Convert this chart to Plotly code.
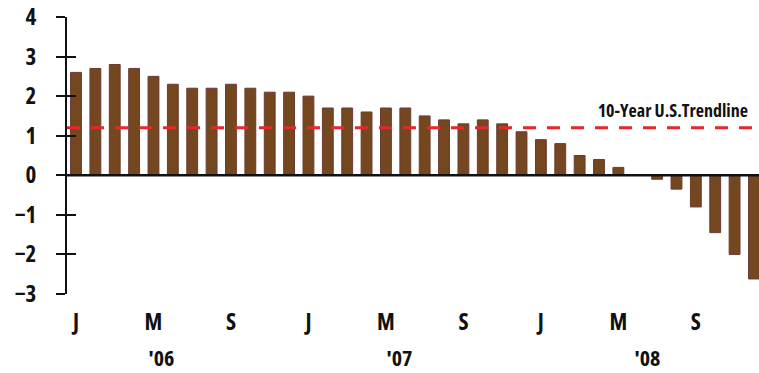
import plotly.graph_objects as go

# Monthly values, Jan 2006 .. Dec 2008
months = [f"{y}-{m:02d}" for y in (2006, 2007, 2008) for m in range(1, 13)]
values = [2.6, 2.7, 2.8, 2.7, 2.5, 2.3, 2.2, 2.2, 2.3, 2.2, 2.1, 2.1,
          2.0, 1.7, 1.7, 1.6, 1.7, 1.7, 1.5, 1.4, 1.3, 1.4, 1.3, 1.1,
          0.9, 0.8, 0.5, 0.4, 0.2, 0.0, -0.1, -0.35, -0.8, -1.45, -2.0, -2.62]
trend_value = 1.2
trend_label = "10-Year U.S.Trendline"
tick_positions = [0, 4, 8, 12, 16, 20, 24, 28, 32]
tick_labels = ["J", "M", "S", "J", "M", "S", "J", "M", "S"]
year_labels = ["'06", "'07", "'08"]
year_positions = [4.4, 16.7, 29.5]
y_ticks = [-3, -2, -1, 0, 1, 2, 3, 4]

FONT = "Open Sans"

x_idx = list(range(len(values)))

fig = go.Figure()
fig.add_trace(go.Bar(
    x=x_idx, y=values, width=0.56,
    marker=dict(color="#74471F", line=dict(color="#6C3A36", width=1)),
    hovertext=months, showlegend=False,
))
fig.add_trace(go.Scatter(x=[x_idx[0]], y=[values[0]], yaxis="y2",
                         mode="markers", marker=dict(opacity=0),
                         showlegend=False, hoverinfo="skip"))

fig.add_shape(type="line", xref="paper", x0=0, x1=1, yref="y",
              y0=trend_value, y1=trend_value,
              line=dict(color="#E8262B", width=3, dash="13px,11px"))

fig.add_annotation(text=trend_label, xref="paper", x=0.8757, xanchor="center",
                   yref="y", y=1.64, yanchor="middle", showarrow=False,
                   font=dict(family=FONT, size=18, color="#111111", weight="bold"))

for lbl, pos in zip(year_labels, year_positions):
    fig.add_annotation(text=lbl, x=pos, xref="x", xanchor="center",
                       yref="paper", y=-0.2274, yanchor="middle", showarrow=False,
                       font=dict(family=FONT, size=22, color="#111111", weight="bold"))

yaxis_common = dict(range=[-3, 4], tickvals=y_ticks, showgrid=False,
                    zeroline=False, fixedrange=True)

fig.update_layout(
    width=759, height=373,
    margin=dict(l=67, r=0, t=17, b=79),
    paper_bgcolor="white", plot_bgcolor="white",
    xaxis=dict(range=[-0.465, 35.26], tickvals=tick_positions, ticktext=tick_labels,
               showgrid=False, zeroline=False, showline=False, ticks="",
               ticklabelstandoff=12, fixedrange=True,
               tickfont=dict(family=FONT, size=23, color="#111111", weight="bold")),
    yaxis=dict(**yaxis_common, showline=True, linecolor="#111111", linewidth=2,
               ticks="outside", ticklen=9, tickwidth=2, tickcolor="#111111",
               ticklabelstandoff=15,
               tickfont=dict(family=FONT, size=23, color="#111111", weight="bold")),
    yaxis2=dict(**yaxis_common, overlaying="y", side="left", showline=False,
                ticks="inside", ticklen=9, tickwidth=2, tickcolor="#111111",
                showticklabels=False),
)

fig.add_hline(y=0, line=dict(color="#111111", width=2.5), layer="above")

post = """
var st = document.createElement('style');
st.textContent = 'html,body{margin:0;padding:0;overflow:hidden} svg text{font-stretch:condensed !important;}';
document.head.appendChild(st);
"""

fig.write_html("out.html", post_script=post, config={"displayModeBar": False})
